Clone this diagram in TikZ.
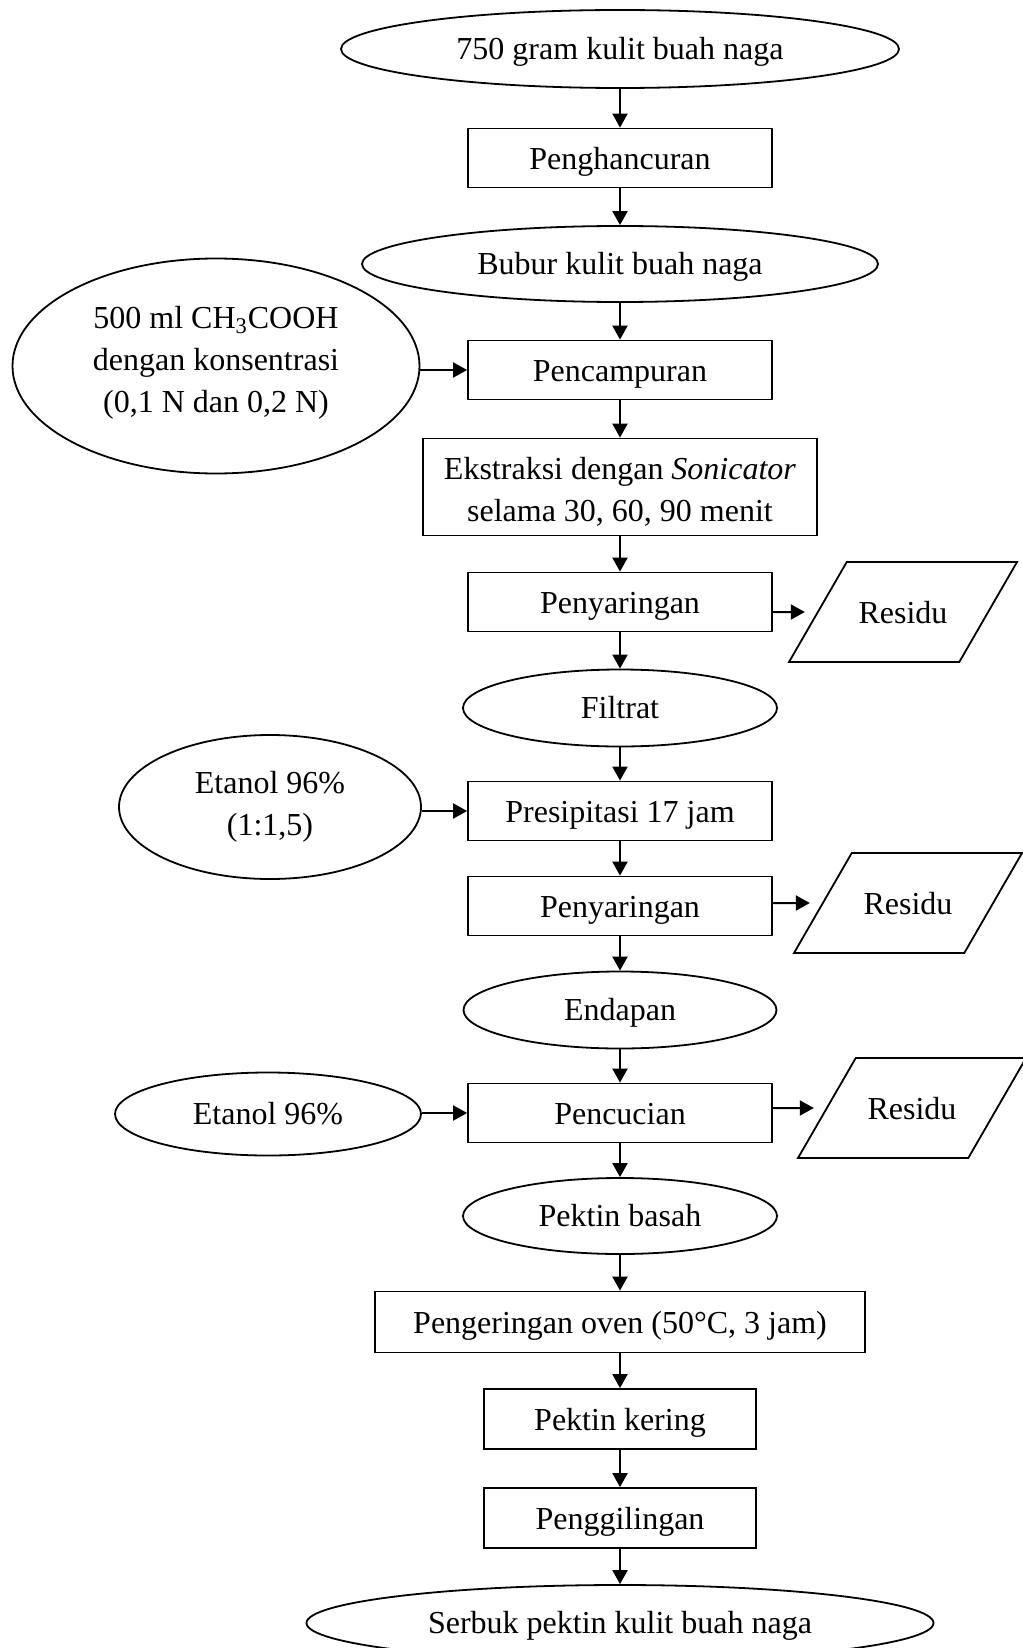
\documentclass[tikz,border=0pt]{standalone}
\usepackage{fontspec}
\setmainfont{Liberation Serif}
\usetikzlibrary{shapes.geometric, arrows.meta}

\begin{document}
\begin{tikzpicture}[x=0.5pt, y=-0.5pt,
    proses/.style={draw, line width=0.9pt, inner sep=0pt, minimum width=152pt, minimum height=29.5pt, text height=15pt, text depth=3.5pt, align=center, font=\fontsize{16}{21}\selectfont},
    bahan/.style={ellipse, draw, line width=0.9pt, inner sep=0pt, text height=14pt, text depth=3.5pt, align=center, font=\fontsize{16}{21}\selectfont},
    sisa/.style={trapezium, trapezium left angle=60, trapezium right angle=120, trapezium stretches body=true, draw, line width=0.9pt, inner xsep=0pt, inner ysep=19.5pt, text height=11pt, text depth=0pt, minimum width=114pt, font=\fontsize{16}{21}\selectfont},
    panah/.style={-{Triangle[length=7pt, width=7.5pt]}, line width=1pt}]
    \useasboundingbox (0,0) rectangle (1022,1648);

    % --- Main column ---
    \node[bahan, minimum width=279pt, minimum height=39pt] (awal) at (620,49) {750 gram kulit buah naga};
    \node[proses] (hancur) at (620,158) {Penghancuran};
    \node[bahan, minimum width=258pt, minimum height=38pt] (bubur) at (620,264) {Bubur kulit buah naga};
    \node[proses] (campur) at (620,370) {Pencampuran};
    \node[proses, minimum width=197pt, minimum height=48.5pt, text height=34pt, text depth=0pt] (ekstrak) at (620,487) {Ekstraksi dengan \textit{Sonicator}\\selama 30, 60, 90 menit};
    \node[proses] (saring1) at (620,602) {Penyaringan};
    \node[bahan, minimum width=157pt, minimum height=38.5pt] (filtrat) at (620,708) {Filtrat};
    \node[proses] (presip) at (620,811) {Presipitasi 17 jam};
    \node[proses] (saring2) at (620,906) {Penyaringan};
    \node[bahan, minimum width=156.5pt, minimum height=38.5pt] (endapan) at (620,1010) {Endapan};
    \node[proses] (cuci) at (620,1113) {Pencucian};
    \node[bahan, minimum width=157pt, minimum height=38pt] (basah) at (620,1216) {Pektin basah};
    \node[proses, minimum width=245pt, minimum height=30.5pt] (oven) at (620,1322) {Pengeringan oven (50°C, 3 jam)};
    \node[proses, minimum width=136pt, minimum height=30pt] (kering) at (620,1419) {Pektin kering};
    \node[proses, minimum width=136pt, minimum height=30pt] (giling) at (620,1518) {Penggilingan};
    \node[bahan, minimum width=313.5pt, minimum height=38pt] (serbuk) at (620,1623) {Serbuk pektin kulit buah naga};

    % --- Inputs on the left ---
    \node[bahan, minimum width=203.5pt, minimum height=107.5pt, text height=, text depth=6.5pt] (asam) at (216,366) {500 ml CH\textsubscript{3}COOH\\dengan konsentrasi\\(0,1 N dan 0,2 N)};
    \node[bahan, minimum width=151pt, minimum height=72pt, text height=, text depth=] (etanol1) at (270,807) {Etanol 96\%\\(1:1,5)};
    \node[bahan, minimum width=153pt, minimum height=41.5pt] (etanol2) at (268,1114) {Etanol 96\%};

    % --- Residues on the right ---
    \node[sisa] (residu1) at (903,612) {Residu};
    \node[sisa] (residu2) at (908,903) {Residu};
    \node[sisa] (residu3) at (912,1108) {Residu};

    % --- Arrows ---
    \foreach \a/\b in {awal/hancur, hancur/bubur, bubur/campur, campur/ekstrak, ekstrak/saring1, saring1/filtrat, filtrat/presip, presip/saring2, saring2/endapan, endapan/cuci, cuci/basah, basah/oven, oven/kering, kering/giling, giling/serbuk}
        \draw[panah] (\a) -- (\b);
    \foreach \a/\b in {asam/campur, etanol1/presip, etanol2/cuci}
        \draw[panah] (\a.east |- \b) -- (\b);
    \foreach \a/\b in {saring1/residu1, saring2/residu2, cuci/residu3}
        \draw[panah, shorten >=6pt] (\a.east |- \b) -- (\b);
\end{tikzpicture}
\end{document}
